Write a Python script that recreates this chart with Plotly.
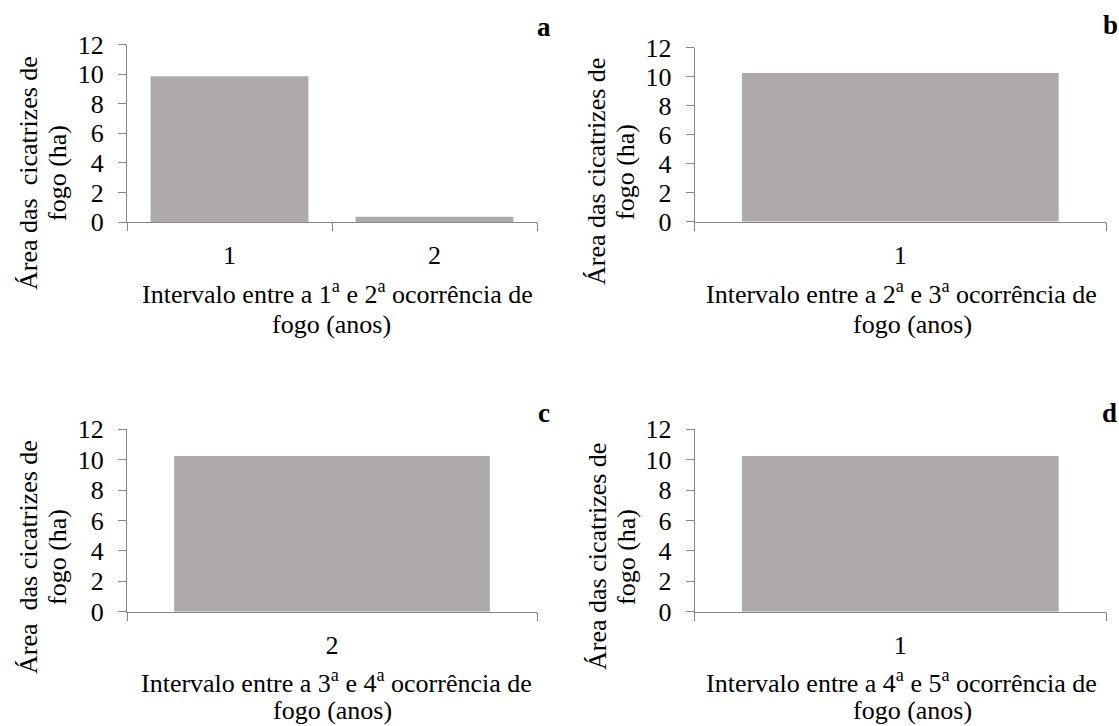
import plotly.graph_objects as go

W, H = 1119, 726

# Data
cats_a = ["1", "2"]
vals_a = [9.85, 0.35]
cats_b = ["1"]
vals_b = [10.25]
cats_c = ["2"]
vals_c = [10.25]
cats_d = ["1"]
vals_d = [10.25]

xtitle_l1 = [
    "Intervalo entre a 1<sup>a</sup> e 2<sup>a</sup> ocorrência de",
    "Intervalo entre a 2<sup>a</sup> e 3<sup>a</sup> ocorrência de",
    "Intervalo entre a 3<sup>a</sup> e 4<sup>a</sup> ocorrência de",
    "Intervalo entre a 4<sup>a</sup> e 5<sup>a</sup> ocorrência de",
]
xtitle_l2 = ["fogo (anos)"] * 4
ytitle_l1 = [
    "Área das\u00a0 cicatrizes de",
    "Área das cicatrizes de",
    "Área\u00a0 das cicatrizes de",
    "Área das cicatrizes de",
]
ytitle_l2 = ["fogo (ha)"] * 4
letters = ["a", "b", "c", "d"]

BAR = "#AEAAAA"
AX = "#868686"
FONT = "Liberation Serif, Times New Roman, serif"
FS = 26

# pixel geometry: (x0, x1, ybottom, ytop)
panels = [
    (127, 537, 222, 44.5),
    (694.6, 1106, 221.7, 47.7),
    (127, 537, 611.7, 429.3),
    (694.6, 1106, 611.7, 429.3),
]
# y title: (x line1, x line2, y center)
ytitle_pos = [(28, 57, 173), (597, 626, 172), (28, 57, 557), (597, 626, 557)]
# x title: (x line1, y line1, x line2, y line2)
xtitle_pos = [(337, 292, 331, 324), (902, 292, 912, 324),
              (336, 681, 332, 710), (902, 681, 912, 710)]
letter_pos = [(544, 27), (1110, 25), (544, 413), (1109, 413)]

data = [(cats_a, vals_a), (cats_b, vals_b), (cats_c, vals_c), (cats_d, vals_d)]


def ann(text, x, y, angle=0, size=FS):
    return dict(text=text, x=x / W, y=1 - y / H, xref="paper", yref="paper",
                showarrow=False, textangle=angle, xanchor="center", yanchor="middle",
                font=dict(family=FONT, size=size, color="black"))


fig = go.Figure()
layout = dict(
    width=W, height=H, autosize=False,
    margin=dict(l=0, r=0, t=0, b=0, pad=0),
    paper_bgcolor="white", plot_bgcolor="white",
    showlegend=False, bargap=0.23,
    font=dict(family=FONT, size=FS, color="black"),
)
annotations = []
for i, ((cats, vals), (x0, x1, yb, yt)) in enumerate(zip(data, panels)):
    n = "" if i == 0 else str(i + 1)
    fig.add_trace(go.Bar(x=cats, y=vals, marker=dict(color=BAR, line=dict(width=0)),
                         xaxis="x" + n, yaxis="y" + n))
    layout["xaxis" + n] = dict(
        domain=[x0 / W, x1 / W], anchor="y" + n, type="category", automargin=False,
        showline=True, linecolor=AX, linewidth=1, ticks="outside", ticklen=8,
        tickcolor=AX, tickson="boundaries", showgrid=False, zeroline=False,
        tickfont=dict(family=FONT, size=FS, color="black"), ticklabelstandoff=10,
    )
    layout["yaxis" + n] = dict(
        domain=[1 - yb / H, 1 - yt / H], anchor="x" + n, range=[0, 12], dtick=2,
        automargin=False,
        showline=True, linecolor=AX, linewidth=1, ticks="outside", ticklen=8,
        tickcolor=AX, showgrid=False, zeroline=False,
        tickfont=dict(family=FONT, size=FS, color="black"), ticklabelstandoff=9,
    )
    a1, a2, ay = ytitle_pos[i]
    annotations.append(ann(ytitle_l1[i], a1, ay, angle=-90))
    annotations.append(ann(ytitle_l2[i], a2, ay, angle=-90))
    b1x, b1y, b2x, b2y = xtitle_pos[i]
    annotations.append(ann(xtitle_l1[i], b1x, b1y))
    annotations.append(ann(xtitle_l2[i], b2x, b2y))
    lx, ly = letter_pos[i]
    annotations.append(ann("<b>" + letters[i] + "</b>", lx, ly, size=27))

layout["annotations"] = annotations
fig.update_layout(**layout)
fig.write_html("out.html")
